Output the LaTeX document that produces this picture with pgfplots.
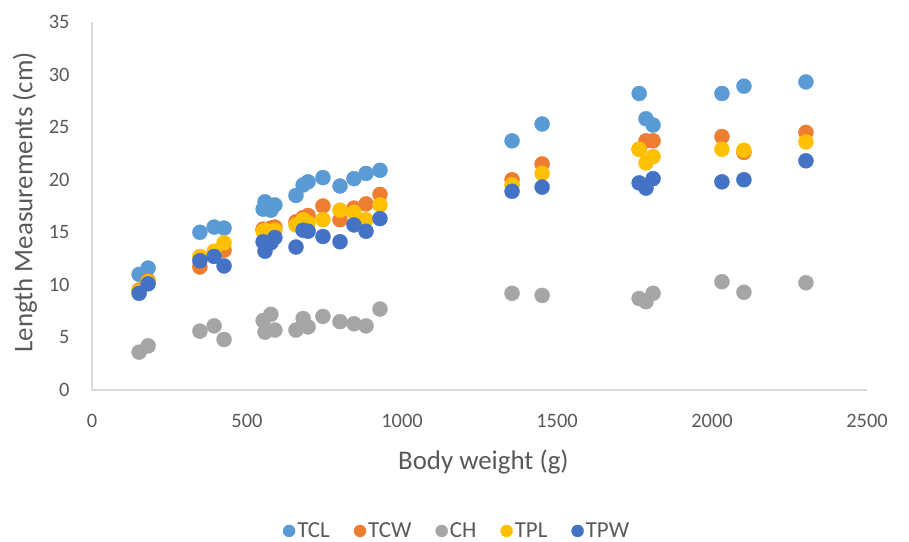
\documentclass[border=0pt]{standalone}
\usepackage{pgfplots}
\pgfplotsset{compat=1.18}
\usepackage{pgfplotstable}
\usepackage{fontspec}
\setmainfont{Carlito}
\definecolor{cTCL}{HTML}{5B9BD5}
\definecolor{cTCW}{HTML}{ED7D31}
\definecolor{cCH}{HTML}{A5A5A5}
\definecolor{cTPL}{HTML}{FFC000}
\definecolor{cTPW}{HTML}{4472C4}
\definecolor{txt}{HTML}{595959}
\definecolor{axl}{HTML}{D9D9D9}
\pgfplotstableread{
x    TCL  TCW  CH   TPL  TPW
152  11.0 9.5  3.6  9.4  9.2
181  11.6 10.4 4.2  10.3 10.1
348  15.0 11.7 5.6  12.7 12.3
394  15.5 13.0 6.1  13.2 12.7
426  15.4 13.3 4.8  14.0 11.8
552  17.2 15.3 6.6  15.1 14.1
558  17.9 15.1 5.5  15.2 13.2
577  17.1 15.4 7.2  15.0 14.0
590  17.6 15.5 5.7  15.2 14.5
658  18.5 16.0 5.7  15.7 13.6
681  19.5 16.4 6.8  16.2 15.2
697  19.8 16.6 6.0  15.9 15.1
745  20.2 17.5 7.0  16.2 14.6
800  19.4 16.2 6.5  17.1 14.1
845  20.1 17.3 6.3  16.9 15.7
884  20.6 17.7 6.1  16.2 15.1
929  20.9 18.6 7.7  17.6 16.3
1355 23.7 20.0 9.2  19.5 18.9
1452 25.3 21.5 9.0  20.6 19.3
1765 28.2 22.9 8.7  22.9 19.7
1787 25.8 23.7 8.4  21.6 19.2
1810 25.2 23.7 9.2  22.2 20.1
2032 28.2 24.1 10.3 22.9 19.8
2103 28.9 22.6 9.3  22.8 20.0
2303 29.3 24.5 10.2 23.6 21.8
}\data
\begin{document}
\begin{tikzpicture}
\begin{axis}[
  at={(92bp,-390bp)}, anchor=south west,
  scale only axis, width=775bp, height=368bp,
  xmin=0, xmax=2500, ymin=0, ymax=35,
  xtick={0,500,...,2500}, ytick={0,5,...,35},
  axis lines=left, axis line style={draw=axl, line width=1.2bp, -},
  major tick length=0pt,
  tick label style={font=\fontsize{20.5}{24}\selectfont, text=txt},
  /pgf/number format/assume math mode=true,
  /pgf/number format/1000 sep={},
  yticklabel shift=19bp, xticklabel shift=21bp,
  xlabel={Body weight (g)}, ylabel={Length Measurements (cm)},
  label style={font=\fontsize{27}{30}\selectfont, text=txt},
  xlabel style={at={(0.505,-0.196)}, anchor=center},
  ylabel style={at={(-0.0865,0.51)}, anchor=center},
  legend columns=5,
  legend style={at={(0.471,-0.383)}, anchor=center, draw=none, fill=none,
    font=\fontsize{23}{27}\selectfont, text=txt,
    /tikz/every even column/.append style={column sep=22bp}},
  legend image code/.code={\fill[#1] (-2bp,0bp) circle (6bp);},
  every axis plot/.append style={only marks, mark=*, mark size=7.5bp},
]
\addplot[color=cTCL, mark options={draw=cTCL, fill=cTCL}] table[x=x,y=TCL]{\data};
\addlegendentry{TCL}
\addplot[color=cTCW, mark options={draw=cTCW, fill=cTCW}] table[x=x,y=TCW]{\data};
\addlegendentry{TCW}
\addplot[color=cCH, mark options={draw=cCH, fill=cCH}] table[x=x,y=CH]{\data};
\addlegendentry{CH}
\addplot[color=cTPL, mark options={draw=cTPL, fill=cTPL}] table[x=x,y=TPL]{\data};
\addlegendentry{TPL}
\addplot[color=cTPW, mark options={draw=cTPW, fill=cTPW}] table[x=x,y=TPW]{\data};
\addlegendentry{TPW}
\end{axis}
\pgfresetboundingbox
\path (0,0) rectangle (909bp,-542bp);
\end{tikzpicture}
\end{document}
